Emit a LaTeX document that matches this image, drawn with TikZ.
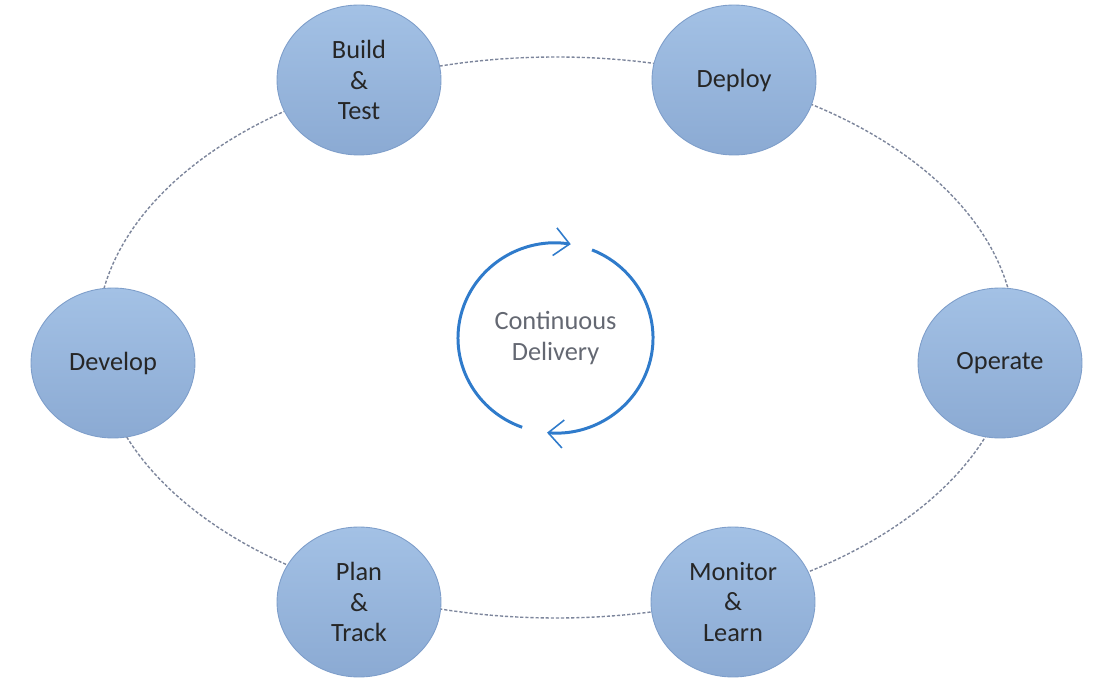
\documentclass[tikz,border=0pt]{standalone}
\usepackage{fontspec}
\setmainfont{Carlito}
\usetikzlibrary{shapes.geometric,arrows.meta}
\definecolor{stagetop}{HTML}{A3C1E5}
\definecolor{stagebot}{HTML}{8BAAD3}
\definecolor{stageedge}{HTML}{7E9ECA}
\definecolor{ringgray}{HTML}{7D869C}
\definecolor{turnblue}{HTML}{2F7BCB}
\definecolor{turngray}{HTML}{646872}

\begin{document}
\begin{tikzpicture}[x=0.02cm,y=0.02cm,
  stage/.style={ellipse,draw=stageedge,line width=0.5pt,top color=stagetop,
    bottom color=stagebot,minimum width=3.28cm,minimum height=3cm,inner sep=0pt,
    align=center,text=black!85,font=\fontsize{15}{17.5}\selectfont},
  ring/.style={draw=ringgray,line width=0.8pt,dash pattern=on 1.8pt off 1.1pt},
  turn/.style={draw=turnblue,line width=1.7pt,
    -{Straight Barb[length=0.3cm,width=0.56cm,line width=0.9pt]}}]
  \useasboundingbox (0,0) rectangle (1108,686);
  % dashed loop behind the stages
  \coordinate (loop) at (556,348.5);
  \draw[ring] (loop) ellipse [x radius=459, y radius=280.5];
  % the six stages
  \node[stage] (build)   at (359,606) {Build\\\&\\Test};
  \node[stage] (deploy)  at (734,606) {Deploy};
  \node[stage] (develop) at (113,323) {Develop};
  \node[stage] (operate) at (1000,323) {Operate};
  \node[stage] (plan)    at (359,84)  {Plan\\\&\\Track};
  \node[stage] (monitor) at (733,84)  {Monitor\\\&\\Learn};
  % centre cycle
  \node[text=turngray,align=center,font=\fontsize{15}{17.5}\selectfont]
    (delivery) at (555.5,348) {Continuous\\Delivery};
  \draw[turn] ([shift={(250:97.5 and 95)}]delivery.center)
    arc [start angle=250, end angle=81, x radius=97.5, y radius=95];
  \draw[turn] ([shift={(68:97.5 and 95)}]delivery.center)
    arc [start angle=68, end angle=-95, x radius=97.5, y radius=95];
\end{tikzpicture}
\end{document}
